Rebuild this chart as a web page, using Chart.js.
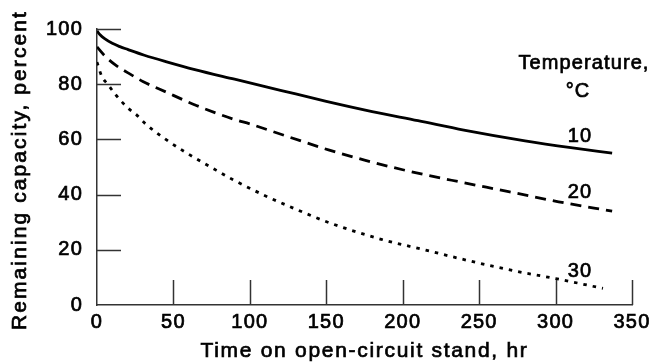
<!DOCTYPE html>
<html>
<head>
<meta charset="utf-8">
<script src="https://cdn.jsdelivr.net/npm/chart.js@4/dist/chart.umd.min.js"></script>
<style>
html,body{margin:0;padding:0;background:#fff;}
#c{display:block;}
</style>
</head>
<body>
<canvas id="c" width="655" height="362"></canvas>
<script>
// ---- data ----
const hours10 = [0, 2, 5, 10, 15, 20, 31, 45, 64, 90, 120, 150, 180, 210, 240, 280, 310, 337];
const cap10   = [99.3, 97.9, 96.5, 94.8, 93.6, 92.6, 90.5, 88.2, 85.3, 81.8, 77.8, 73.8, 70.1, 66.8, 63.4, 59.5, 57, 55];

const hours20 = [0, 5, 12, 20, 30, 45, 65, 90, 100, 125, 152, 175, 200, 232, 270, 302, 337];
const cap20   = [93.5, 90.3, 87, 84.2, 81, 77.2, 72.3, 67.2, 65.6, 61, 56.1, 52.5, 49, 45.2, 41, 37.4, 34];

const hours30 = [0, 3, 7, 12, 20, 26, 32, 45, 58, 75, 89, 110, 128, 152, 186, 215, 236, 261, 280, 300, 331];
const cap30   = [88, 83, 80, 76.3, 71.5, 68.8, 65.5, 60, 55.3, 49.8, 45.4, 39.6, 35.2, 29.8, 23.8, 19.9, 17, 13.8, 11.6, 9.6, 6];

const seriesNames = ['10', '20', '30'];
const xTickValues = [0, 50, 100, 150, 200, 250, 300, 350];
const yTickValues = [0, 20, 40, 60, 80, 100];
const xTitle = 'Time on open-circuit stand, hr';
const yTitle = 'Remaining capacity, percent';
const legendTitle = ['Temperature,', '\u00B0C'];

// ---- annotation placement (data units) ----
const seriesLabelAt = [{x: 316, y: 59}, {x: 316, y: 38.7}, {x: 316, y: 10.1}];
const legendTitleAt = [{x: 318.6, y: 85.4}, {x: 314.7, y: 75.3}];

const FONT = '"Liberation Sans", Arial, Helvetica, sans-serif';
const toPts = (xs, ys) => xs.map((v, i) => ({x: v, y: ys[i]}));

function heavyText(ctx, s, x, y) {
  ctx.fillText(s, x, y);
  ctx.strokeText(s, x, y);
}

const annotatePlugin = {
  id: 'annotate',
  beforeDraw(chart) {
    chart.ctx.letterSpacing = '1.2px';
  },
  afterDraw(chart) {
    const ctx = chart.ctx, xs = chart.scales.x, ys = chart.scales.y, a = chart.chartArea;
    ctx.save();
    ctx.strokeStyle = '#333';
    ctx.lineWidth = 1.5;
    ys.ticks.forEach(t => {
      if (t.value === 0) return;
      const py = Math.round(ys.getPixelForValue(t.value)) + 0.5;
      ctx.beginPath(); ctx.moveTo(a.left, py); ctx.lineTo(a.left + 24, py); ctx.stroke();
    });
    xs.ticks.forEach(t => {
      if (t.value === 0) return;
      const px = Math.round(xs.getPixelForValue(t.value)) + 0.5;
      ctx.beginPath(); ctx.moveTo(px, a.bottom); ctx.lineTo(px, a.bottom - 25); ctx.stroke();
    });

    ctx.fillStyle = '#000';
    ctx.strokeStyle = '#000';
    ctx.lineWidth = 0.7;
    ctx.textBaseline = 'alphabetic';
    ctx.textAlign = 'center';

    // series labels and legend heading
    ctx.font = '20px ' + FONT;
    ctx.letterSpacing = '1.1px';
    seriesNames.forEach((s, i) => {
      heavyText(ctx, s, xs.getPixelForValue(seriesLabelAt[i].x), ys.getPixelForValue(seriesLabelAt[i].y));
    });
    legendTitle.forEach((s, i) => {
      heavyText(ctx, s, xs.getPixelForValue(legendTitleAt[i].x), ys.getPixelForValue(legendTitleAt[i].y));
    });

    // axis titles
    ctx.font = '21px ' + FONT;
    ctx.letterSpacing = '1.7px';
    heavyText(ctx, xTitle, (a.left + a.right) / 2, a.bottom + 52);

    ctx.letterSpacing = '2.1px';
    ctx.translate(26, (a.top + a.bottom) / 2 + 3);
    ctx.rotate(-Math.PI / 2);
    heavyText(ctx, yTitle, 0, 0);
    ctx.restore();
  }
};

new Chart(document.getElementById('c'), {
  type: 'line',
  data: {
    datasets: [
      {label: seriesNames[0], data: toPts(hours10, cap10), borderColor: '#000', borderWidth: 2.8, pointRadius: 0, cubicInterpolationMode: 'monotone', fill: false},
      {label: seriesNames[1], data: toPts(hours20, cap20), borderColor: '#000', borderWidth: 2.8, borderDash: [11, 7], pointRadius: 0, cubicInterpolationMode: 'monotone', fill: false},
      {label: seriesNames[2], data: toPts(hours30, cap30), borderColor: '#000', borderWidth: 2.8, borderDash: [3.5, 6], pointRadius: 0, cubicInterpolationMode: 'monotone', fill: false}
    ]
  },
  options: {
    responsive: false,
    animation: false,
    devicePixelRatio: 1,
    layout: {padding: {left: 0, right: 23, top: 29, bottom: 0}},
    plugins: {legend: {display: false}, tooltip: {enabled: false}},
    scales: {
      x: {
        type: 'linear', min: 0, max: 350,
        afterBuildTicks: s => { s.ticks = xTickValues.map(v => ({value: v})); },
        afterFit: s => { s.height = 57; },
        grid: {display: false, drawTicks: false},
        border: {display: true, color: '#333', width: 1.5},
        ticks: {color: '#000', font: {family: FONT, size: 20}, padding: 5, maxRotation: 0, textStrokeColor: '#000', textStrokeWidth: 0.7},
        title: {display: false}
      },
      y: {
        type: 'linear', min: 0, max: 100,
        afterBuildTicks: s => { s.ticks = yTickValues.map(v => ({value: v})); },
        afterFit: s => { s.width = 97; },
        grid: {display: false, drawTicks: false},
        border: {display: true, color: '#333', width: 1.5},
        ticks: {color: '#000', font: {family: FONT, size: 20}, padding: 14, textStrokeColor: '#000', textStrokeWidth: 0.7},
        title: {display: false}
      }
    }
  },
  plugins: [annotatePlugin]
});
</script>
</body>
</html>
